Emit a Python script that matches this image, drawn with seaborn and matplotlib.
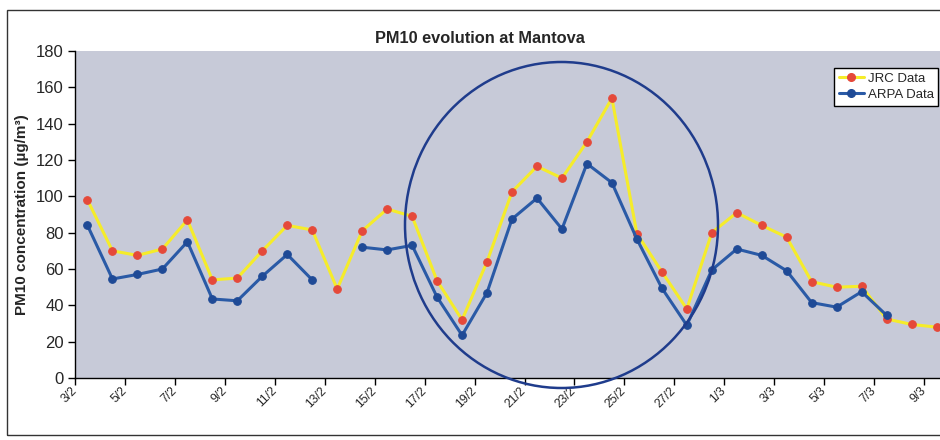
import numpy as np
import pandas as pd
import matplotlib
matplotlib.use("Agg")
import matplotlib.pyplot as plt
from matplotlib.patches import Ellipse, Rectangle
from matplotlib.lines import Line2D
import matplotlib.transforms as mtransforms
import seaborn as sns

# ---- data ----
dates = ["3/2", "4/2", "5/2", "6/2", "7/2", "8/2", "9/2", "10/2", "11/2", "12/2",
         "13/2", "14/2", "15/2", "16/2", "17/2", "18/2", "19/2", "20/2", "21/2", "22/2",
         "23/2", "24/2", "25/2", "26/2", "27/2", "28/2", "1/3", "2/3", "3/3", "4/3",
         "5/3", "6/3", "7/3", "8/3", "9/3"]
jrc = [98, 70, 67.5, 71, 87, 54, 55, 70, 84, 81.5,
       49, 81, 93, 89, 53.5, 32, 64, 102.5, 116.5, 110,
       130, 154, 79.5, 58.5, 38, 80, 91, 84, 77.5, 53,
       50, 50.5, 32.5, 29.5, 28]
arpa = [84, 54.5, 57, 60, 75, 43.5, 42.5, 56, 68, 54,
        np.nan, 72, 70.5, 73, 44.5, 23.5, 47, 87.5, 99, 82,
        118, 107.5, 76.5, 49.5, 29, 59.5, 71, 67.5, 59, 41.5,
        39, 47.5, 34.5, np.nan, np.nan]
yticks = list(range(0, 181, 20))

day = np.arange(len(dates))
df = pd.DataFrame({"day": day, "JRC": jrc, "ARPA": arpa})
# segment id so the ARPA line breaks at missing days
df["seg"] = df["ARPA"].isna().cumsum()

sns.set_theme(style="white")
plt.rcParams["font.family"] = ["Liberation Sans", "DejaVu Sans"]

fig = plt.figure(figsize=(9.4, 4.4), dpi=100)
fig.patch.set_facecolor("white")
ax = fig.add_axes([75 / 940, 62 / 440, 899 / 940, 327 / 440])
ax.set_facecolor("#c7cad8")

yellow = "#f5ec2a"
red = "#e5493a"
blue_line = "#2a5aa6"
blue_mark = "#1f4a96"

sns.lineplot(data=df, x="day", y="JRC", ax=ax, color=yellow, lw=2.2,
             marker="o", markersize=5.5, markerfacecolor=red, markeredgecolor=red,
             zorder=3)
sns.lineplot(data=df.dropna(subset=["ARPA"]), x="day", y="ARPA", units="seg",
             estimator=None, ax=ax, color=blue_line, lw=2.2,
             marker="o", markersize=5.5, markerfacecolor=blue_mark,
             markeredgecolor=blue_mark, zorder=4)

ax.set_xlim(-0.5, 35.5)
ax.set_ylim(0, 180)
ax.set_yticks(yticks)
ax.set_yticklabels([str(v) for v in yticks], fontsize=12)
ax.set_xticks(day[::2] - 0.5)
ax.set_xticklabels(dates[::2], fontsize=8.8, rotation=45, ha="right",
                   va="center", rotation_mode="anchor")
offset = mtransforms.ScaledTranslation(12 / 100, -11 / 100, fig.dpi_scale_trans)
for lbl in ax.get_xticklabels():
    lbl.set_transform(lbl.get_transform() + offset)

ax.tick_params(axis="both", direction="out", length=5, width=1, color="black",
               left=True, bottom=True, pad=3)
for s in ["top", "right"]:
    ax.spines[s].set_visible(False)
for s in ["left", "bottom"]:
    ax.spines[s].set_color("black")
    ax.spines[s].set_linewidth(1)

ax.set_xlabel("")
ax.set_ylabel("PM10 concentration (µg/m³)", fontsize=11, fontweight="bold",
              labelpad=5)
fig.text(480 / 940, 1 - 38 / 440, "PM10 evolution at Mantova", ha="center",
         va="center", fontsize=11.8, fontweight="bold")

handles = [
    Line2D([], [], color=yellow, lw=2.2, marker="o", markersize=5.5,
           markerfacecolor=red, markeredgecolor=red),
    Line2D([], [], color=blue_line, lw=2.2, marker="o", markersize=5.5,
           markerfacecolor=blue_mark, markeredgecolor=blue_mark),
]
leg = ax.legend(handles, ["JRC Data", "ARPA Data"], loc="upper left",
                bbox_to_anchor=(834 / 940, 1 - 68 / 440),
                bbox_transform=fig.transFigure, fontsize=9.5, frameon=True,
                fancybox=False, borderpad=0.35, handlelength=1.9,
                handletextpad=0.3, labelspacing=0.3, borderaxespad=0)
leg.get_frame().set_edgecolor("black")
leg.get_frame().set_linewidth(1)
leg.get_frame().set_facecolor("white")
leg.get_frame().set_alpha(1)

# chart-area border
fig.patches.append(Rectangle((7 / 940, 5 / 440), 1.2, 425 / 440,
                             transform=fig.transFigure, fill=False,
                             edgecolor="#333333", lw=1.0))
# hand-drawn highlight ellipse
fig.patches.append(Ellipse((561.5 / 940, 1 - 225 / 440), 313 / 940, 326 / 440,
                           transform=fig.transFigure, fill=False,
                           edgecolor="#1f3c8c", lw=1.8, zorder=10))

fig.savefig("out.png", dpi=100, facecolor="white")
